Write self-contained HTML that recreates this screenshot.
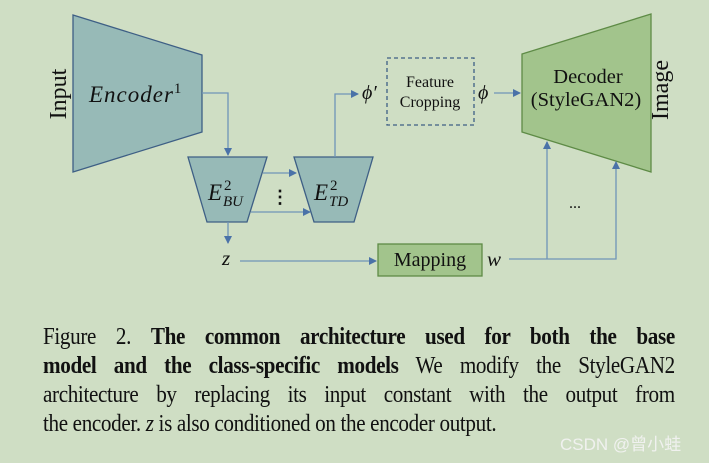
<!DOCTYPE html>
<html><head><meta charset="utf-8"><style>
body{margin:0;width:709px;height:463px;background:#cfdec4;overflow:hidden;position:relative;font-family:"Liberation Serif",serif}
svg{position:absolute;left:0;top:0}
.cap{position:absolute;left:43px;top:323px;width:718px;font-size:24px;line-height:29px;color:#111;letter-spacing:-0.4px;transform:scaleX(0.88);transform-origin:0 0}
.cap div{text-align:justify;text-align-last:justify;white-space:nowrap;height:29px}
.cap div.l{text-align-last:left}
.wm{position:absolute;left:560px;top:430px;font-family:"Liberation Sans","Noto Sans CJK SC",sans-serif;font-size:17px;color:#f4f4f4;opacity:.9}
</style></head><body>
<svg width="709" height="463" viewBox="0 0 709 463">
<defs><marker id="a" markerWidth="8" markerHeight="8" refX="7" refY="4" orient="auto" markerUnits="userSpaceOnUse"><path d="M0,0 L8,4 L0,8 z" fill="#4a72a8"/></marker></defs>
<g stroke="#3e5f85" stroke-width="1.3" fill="#97bab7">
<polygon points="73,15 202,55 202,132 73,172"/>
<polygon points="188,157 267,157 247,222 207,222"/>
<polygon points="294,157 373,157 354,222 314,222"/>
</g>
<polygon points="522,54 651,14 651,172 522,132" fill="#a2c48c" stroke="#5e8b46" stroke-width="1.3"/>
<rect x="378" y="244" width="104" height="32" fill="#a2c48c" stroke="#5e8b46" stroke-width="1.3"/>
<rect x="387" y="58" width="87" height="67" fill="none" stroke="#3e5f85" stroke-width="1.3" stroke-dasharray="4,3"/>
<g stroke="#6f95b8" stroke-width="1.3" fill="none" marker-end="url(#a)">
<path d="M202,93 H228 V155"/>
<path d="M335,157 V94 H358"/>
<path d="M263,173 H296"/>
<path d="M251,212 H310"/>
<path d="M228,222 V243"/>
<path d="M240,261 H376"/>
<path d="M494,93 H520"/>
<path d="M547,259 V142"/>
<path d="M509,259 H616 V162"/>
</g>
<g fill="#111" font-family="Liberation Serif,serif">
<text x="66" y="94" font-size="24" text-anchor="middle" transform="rotate(-90 66 94)">Input</text>
<text x="668" y="90" font-size="24" text-anchor="middle" transform="rotate(-90 668 90)">Image</text>
<text x="89" y="102" font-size="23" font-style="italic" letter-spacing="1">Encoder<tspan font-size="15" dy="-9" font-style="normal">1</tspan></text>
<text x="208" y="200" font-size="23" font-style="italic">E</text>
<text x="224" y="190" font-size="15">2</text>
<text x="223" y="206" font-size="15" font-style="italic">BU</text>
<text x="314" y="200" font-size="23" font-style="italic">E</text>
<text x="330" y="190" font-size="15">2</text>
<text x="329" y="206" font-size="15" font-style="italic">TD</text>
<text x="271" y="203" font-size="18" font-weight="bold">⋮</text>
<text x="222" y="265" font-size="21" font-style="italic">z</text>
<text x="362" y="99" font-size="20" font-style="italic">ϕ′</text>
<text x="478" y="99" font-size="20" font-style="italic">ϕ</text>
<text x="430" y="87" font-size="16" text-anchor="middle">Feature</text>
<text x="430" y="107" font-size="16" text-anchor="middle">Cropping</text>
<text x="588" y="83" font-size="20.5" text-anchor="middle">Decoder</text>
<text x="586" y="106" font-size="20.5" text-anchor="middle">(StyleGAN2)</text>
<text x="430" y="266" font-size="20" text-anchor="middle">Mapping</text>
<text x="487" y="266" font-size="21" font-style="italic">w</text>
<text x="575" y="208" font-size="16" text-anchor="middle">...</text>
</g>
</svg>
<div class="cap">
<div>Figure 2. <b>The common architecture used for both the base</b></div>
<div><b>model and the class-specific models</b> We modify the StyleGAN2</div>
<div>architecture by replacing its input constant with the output from</div>
<div class="l">the encoder. <i>z</i> is also conditioned on the encoder output.</div>
</div>
<div class="wm">CSDN @曾小蛙</div>
</body></html>
